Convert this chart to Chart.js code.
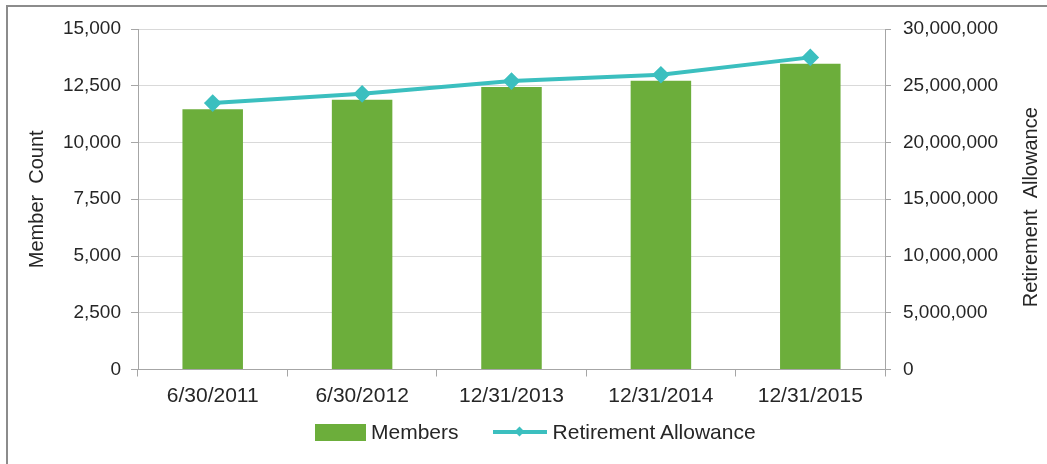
<!DOCTYPE html>
<html>
<head>
<meta charset="utf-8">
<script src="https://cdn.jsdelivr.net/npm/chart.js@4.4.0/dist/chart.umd.min.js"></script>
<style>
  html, body { margin: 0; padding: 0; background: #fff; }
  #wrap { position: relative; width: 1047px; height: 464px; overflow: hidden; }
  #frame { position: absolute; left: 6px; top: 5px; width: 1060px; height: 480px;
           border: 2px solid #8c8c8c; box-sizing: border-box; }
  #chart { position: absolute; left: 0; top: 0; }
  #legend { position: absolute; left: 315px; top: 420px; display: flex; align-items: center;
            font: 21px "Liberation Sans", Arial, sans-serif; color: #262626; white-space: nowrap; }
  .item { display: flex; align-items: center; }
  .item + .item { margin-left: 34px; }
  .box { width: 51px; height: 17px; background: #6cae3b; margin-right: 5px; }
  .line { position: relative; width: 54px; height: 4px; background: #3bbfbf; margin-right: 6px; }
  .line::after { content: ""; position: absolute; left: 23px; top: -2px; width: 7px; height: 7px;
                 background: #3bbfbf; transform: rotate(45deg); }
</style>
</head>
<body>
<div id="wrap">
  <div id="frame"></div>
  <canvas id="chart" width="1047" height="464"></canvas>
  <div id="legend">
    <div class="item"><span class="box"></span>Members</div>
    <div class="item"><span class="line"></span>Retirement Allowance</div>
  </div>
</div>
<script>
// values
const categories = ['6/30/2011', '6/30/2012', '12/31/2013', '12/31/2014', '12/31/2015'];
const members = [11470, 11880, 12440, 12720, 13470];
const allowance = [23470000, 24290000, 25410000, 25970000, 27500000];
const memberTicks = [0, 2500, 5000, 7500, 10000, 12500, 15000];
const allowanceTicks = [0, 5000000, 10000000, 15000000, 20000000, 25000000, 30000000];

const green = '#6cae3b';
const teal = '#3bbfbf';
const textColor = '#262626';
const fontFamily = '"Liberation Sans", Arial, sans-serif';

// right axis title reads bottom-to-top in the original
const rightTitle = {
  id: 'rightTitle',
  afterDraw(chart) {
    const { ctx, chartArea } = chart;
    ctx.save();
    ctx.translate(1031, (chartArea.top + chartArea.bottom) / 2 + 8);
    ctx.rotate(-Math.PI / 2);
    ctx.font = '20px ' + fontFamily;
    ctx.fillStyle = textColor;
    ctx.textAlign = 'center';
    ctx.textBaseline = 'middle';
    ctx.fillText('Retirement  Allowance', 0, 0);
    ctx.restore();
  }
};

const fmt = v => v.toLocaleString('en-US');

new Chart(document.getElementById('chart'), {
  type: 'bar',
  data: {
    labels: categories,
    datasets: [
      {
        type: 'line',
        label: 'Retirement Allowance',
        data: allowance,
        yAxisID: 'y2',
        borderColor: teal,
        backgroundColor: teal,
        borderWidth: 4,
        pointStyle: 'rectRot',
        pointRadius: 6,
        pointHoverRadius: 6,
        tension: 0,
        order: 0
      },
      {
        label: 'Members',
        data: members,
        yAxisID: 'y',
        backgroundColor: green,
        categoryPercentage: 1,
        barPercentage: 0.405,
        order: 1
      }
    ]
  },
  options: {
    responsive: false,
    animation: false,
    layout: { padding: { left: 8, top: 29, right: 0, bottom: 0 } },
    plugins: { legend: { display: false }, tooltip: { enabled: false } },
    scales: {
      x: {
        grid: { drawOnChartArea: false, drawTicks: true, tickLength: 7, color: '#a6a6a6', offset: true },
        border: { color: '#a6a6a6' },
        ticks: { color: textColor, font: { size: 21, family: fontFamily }, padding: 7, maxRotation: 0 },
        afterFit(s) { s.height = 94.5; }
      },
      y: {
        position: 'left',
        min: 0, max: 15000,
        afterBuildTicks(s) { s.ticks = memberTicks.map(v => ({ value: v })); },
        grid: { color: '#d9d9d9', tickColor: '#a6a6a6', tickLength: 7 },
        border: { color: '#a6a6a6' },
        ticks: { color: textColor, font: { size: 19, family: fontFamily }, padding: 10, callback: v => fmt(v) },
        title: { display: true, text: 'Member  Count', color: textColor,
                 font: { size: 20, family: fontFamily }, padding: { top: 17 } },
        afterFit(s) { s.width = 130; }
      },
      y2: {
        position: 'right',
        min: 0, max: 30000000,
        afterBuildTicks(s) { s.ticks = allowanceTicks.map(v => ({ value: v })); },
        grid: { drawOnChartArea: false, tickColor: '#a6a6a6', tickLength: 6 },
        border: { color: '#a6a6a6' },
        ticks: { color: textColor, font: { size: 19, family: fontFamily }, padding: 12, callback: v => fmt(v) },
        afterFit(s) { s.width = 162; }
      }
    }
  },
  plugins: [rightTitle]
});
</script>
</body>
</html>
